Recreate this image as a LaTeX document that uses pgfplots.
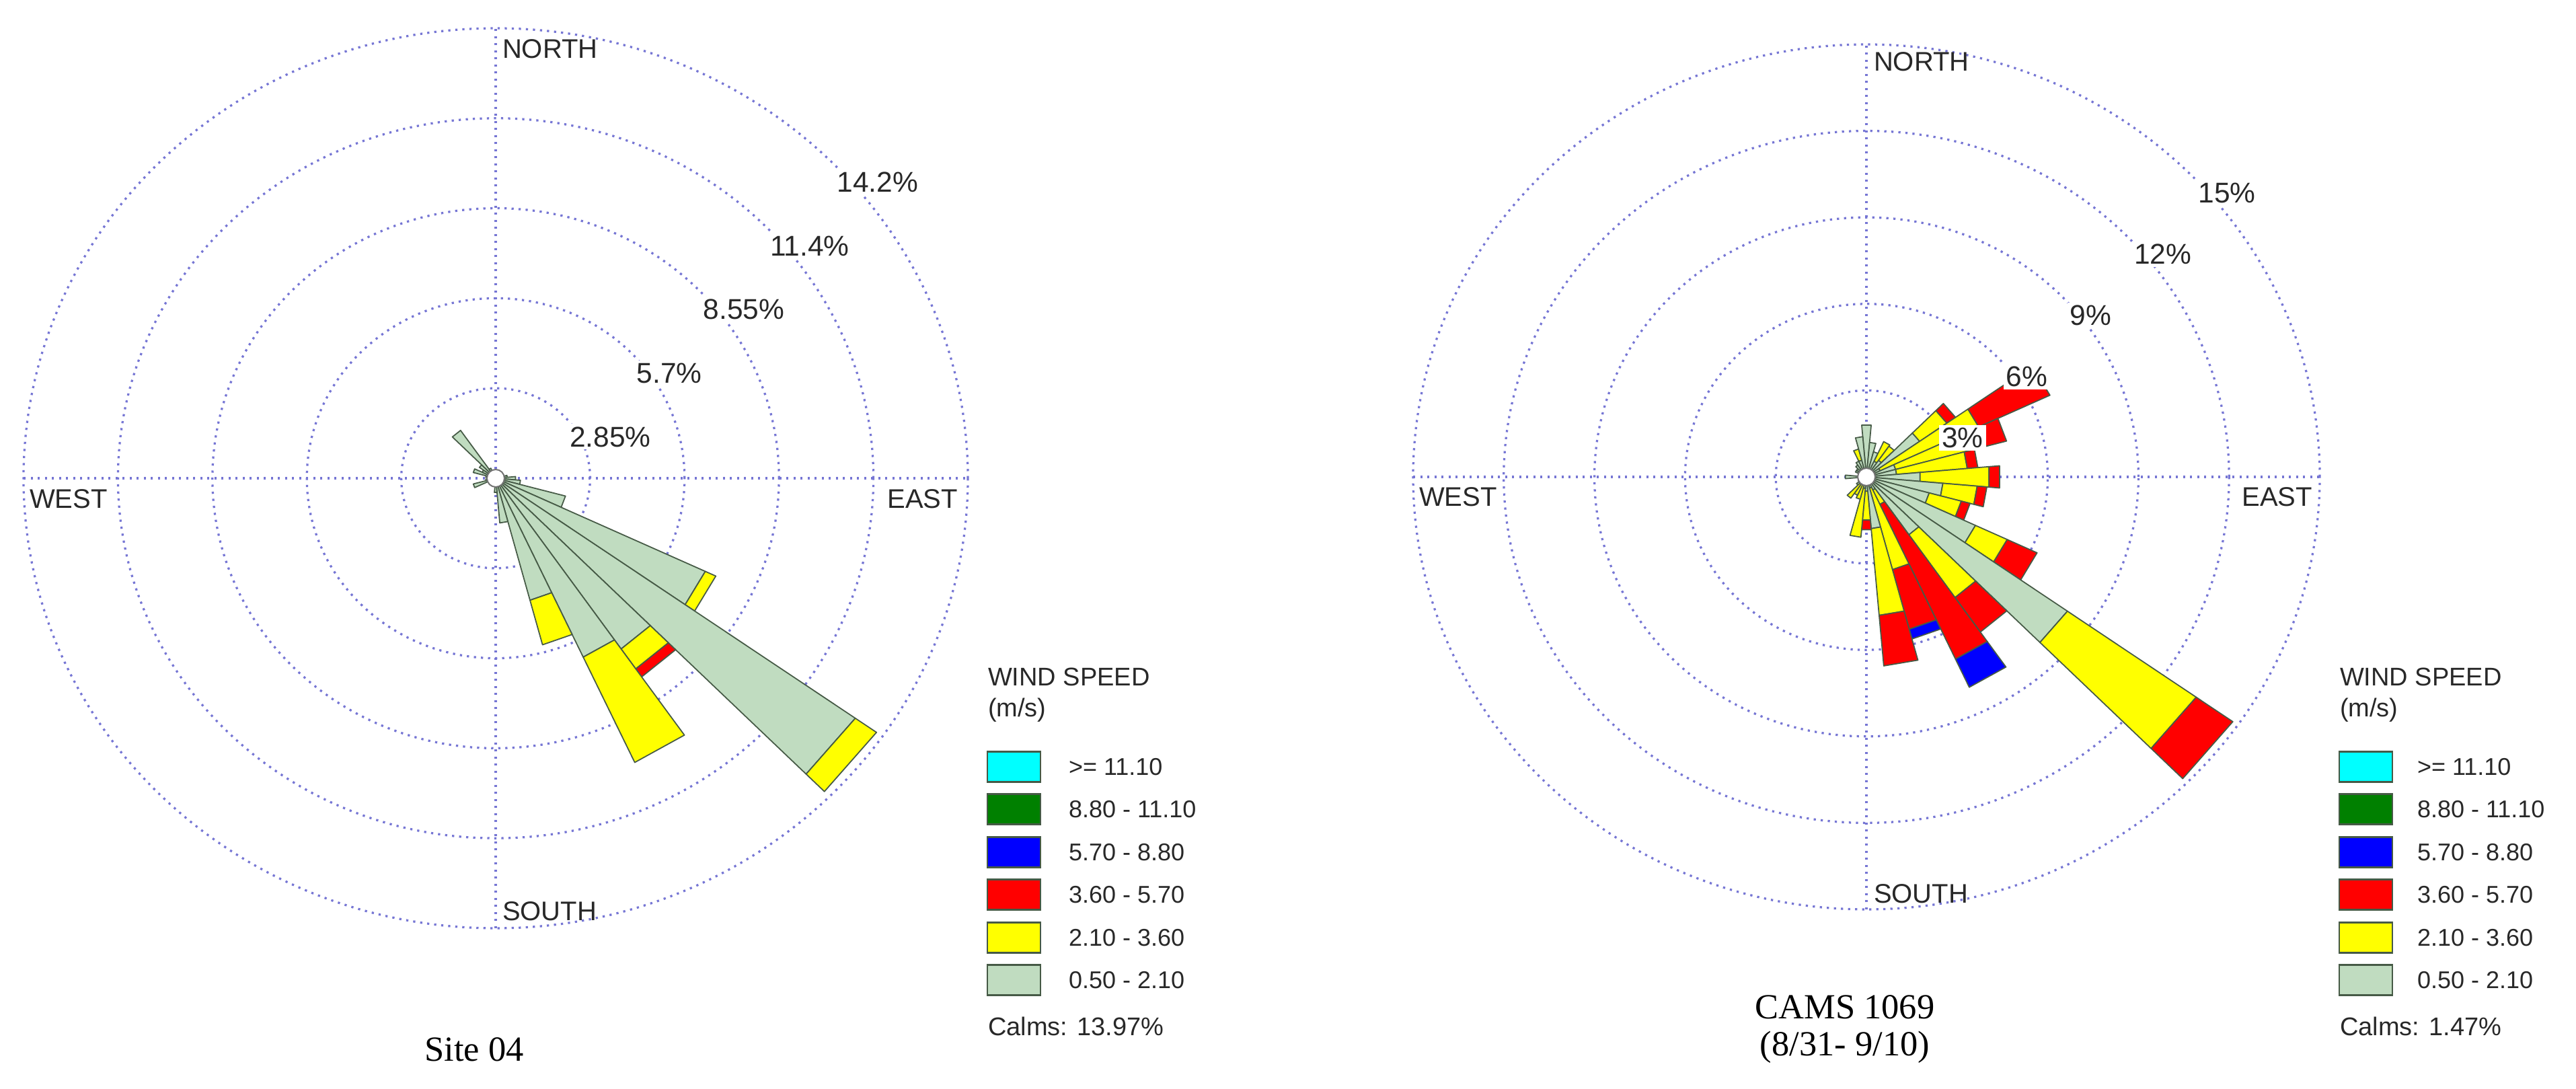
\documentclass[border=0pt]{standalone}
\usepackage{pgfplots}
\pgfplotsset{compat=1.18}
\usepackage{pgfplotstable}
\usepackage{fontspec}
\setmainfont{Liberation Sans}
\newfontfamily\seriffont{Liberation Serif}

\definecolor{wg}{RGB}{192,220,192}
\definecolor{wy}{RGB}{255,255,0}
\definecolor{wr}{RGB}{255,0,0}
\definecolor{wb}{RGB}{0,0,255}
\definecolor{wdg}{RGB}{0,128,0}
\definecolor{wc}{RGB}{0,255,255}
\definecolor{ringc}{RGB}{118,118,212}
\definecolor{edgec}{RGB}{70,90,70}
\definecolor{txt}{RGB}{40,40,40}

\pgfplotsset{
  roseaxis/.style={scale only axis, hide axis, clip=false, anchor=origin,
    xmin=-#1, xmax=#1, ymin=-#1, ymax=#1},
  wedge/.style={draw=edgec, line width=0.35pt, line join=round},
}
\tikzset{
  ring/.style={draw=ringc, line width=0.65pt, dash pattern=on 0.65pt off 1.45pt},
  dirlab/.style={font=\fontsize{8}{9.6}\selectfont, text=txt, inner sep=0pt},
  ringlab/.style={anchor=north west, font=\fontsize{8.5}{10}\selectfont, text=txt,
    fill=white, inner sep=0.8pt, xshift=1.2pt, yshift=-2.6pt},
  legtxt/.style={font=\fontsize{7.6}{9}\selectfont, text=txt, inner sep=0pt},
  legitem/.style={font=\fontsize{7.2}{9}\selectfont, text=txt, inner sep=0pt, anchor=west},
}

% direction (compass deg), then percentage per speed class:
% g = 0.50-2.10, y = 2.10-3.60, r = 3.60-5.70, b = 5.70-8.80
\pgfplotstableread{
d   g     y     r     b
80  0.35  0     0     0
90  0.6   0     0     0
100 0.75  0     0     0
110 2.18  0     0     0
120 6.98  0.35  0     0
130 13.25 0.78  0     0
140 6.6   0.77  0.31  0
150 6.25  3.68  0     0
160 4.0   1.46  0     0
170 1.42  0     0     0
180 0.45  0     0     0
190 0.25  0     0     0
250 0.7   0     0     0
260 0.3   0     0     0
280 0.3   0     0     0
290 0.7   0     0     0
300 0.45  0     0     0
310 0.6   0     0     0
320 1.85  0     0     0
330 0.35  0     0     0
}\leftdata

\pgfplotstableread{
d   g     y     r     b
0   1.8   0     0     0
10  1.2   0     0     0
20  0.9   0     0     0
30  0.6   0.75  0     0
40  0.7   0.6   0     0
50  2.15  1.1   0.35  0
60  0.5   3.6   2.6   0
70  1.0   2.95  0.85  0
80  1.0   2.35  0.35  0
90  1.78  2.29  0.35  0
100 2.54  1.14  0.32  0
110 2.15  1.1   0.3   0
120 3.98  1.16  1.09  0
130 8.12  5.2   1.48  0
140 2.45  2.66  1.46  0
150 0.5   0.55  5.92  1.08
160 0.4   2.93  2.14  0.35
170 1.8   3.02  1.76  0
180 0.5   1.0   0.34  0
190 0.4   1.7   0     0
200 0.3   0.5   0     0
210 0.3   0.4   0     0
220 0.3   0.6   0     0
230 0.4   0     0     0
240 0.3   0     0     0
270 0.7   0     0     0
300 0.4   0     0     0
310 0.4   0     0     0
320 0.5   0     0     0
330 0.6   0     0     0
340 0.6   0.4   0     0
350 1.4   0     0     0
}\rightdata

\newcommand\wedgeseg[5]{%
  \edef\tmp{\noexpand\addplot[wedge,fill=#5,data cs=polar] coordinates {(#1,#3) (#2,#3) (#2,#4) (#1,#4)} -- cycle;}%
  \tmp}

\newcommand\drawrose[1]{%
  \pgfplotstablegetrowsof{#1}%
  \pgfmathtruncatemacro\nrows{\pgfplotsretval-1}%
  \pgfplotsforeachungrouped \i in {0,...,\nrows}{%
    \pgfplotstablegetelem{\i}{d}\of{#1}\pgfmathsetmacro\aA{85-\pgfplotsretval}%
    \pgfmathsetmacro\aB{\aA+10}%
    \pgfplotstablegetelem{\i}{g}\of{#1}\pgfmathsetmacro\rA{\pgfplotsretval}%
    \pgfplotstablegetelem{\i}{y}\of{#1}\pgfmathsetmacro\rB{\rA+\pgfplotsretval}%
    \pgfplotstablegetelem{\i}{r}\of{#1}\pgfmathsetmacro\rC{\rB+\pgfplotsretval}%
    \pgfplotstablegetelem{\i}{b}\of{#1}\pgfmathsetmacro\rD{\rC+\pgfplotsretval}%
    \ifdim\rA pt>0pt \wedgeseg{\aA}{\aB}{0}{\rA}{wg}\fi
    \ifdim\rB pt>\rA pt \wedgeseg{\aA}{\aB}{\rA}{\rB}{wy}\fi
    \ifdim\rC pt>\rB pt \wedgeseg{\aA}{\aB}{\rB}{\rC}{wr}\fi
    \ifdim\rD pt>\rC pt \wedgeseg{\aA}{\aB}{\rC}{\rD}{wb}\fi
  }}

\newcommand\windlegend[3]{%
  \node[legtxt, anchor=base west] at (#1,119.8pt) {WIND SPEED};
  \node[legtxt, anchor=base west] at (#1,110.6pt) {(m/s)};
  \foreach \yy/\cc/\lab in {95.8/wc/{>= 11.10}, 83.2/wdg/{8.80 - 11.10}, 70.4/wb/{5.70 - 8.80},
      57.8/wr/{3.60 - 5.70}, 45.0/wy/{2.10 - 3.60}, 32.4/wg/{0.50 - 2.10}}{%
    \draw[draw=edgec, fill=\cc, line width=0.45pt] (#1,\yy pt-4.5pt) rectangle ++(15.8pt,9pt);
    \node[legitem] at (#2,\yy pt) {\lab};
  }
  \node[legtxt, anchor=base west] at (#1,15.8pt) {Calms: #3};
}

\begin{document}
\begin{tikzpicture}
\path[use as bounding box] (0,0) rectangle (766pt,323.8pt);

% ---------- left rose ----------
\begin{axis}[roseaxis=14.25, at={(147.4pt,181.6pt)}, width=280.8pt, height=267.6pt]
  \draw[ring] (axis cs:0,0) ellipse [x radius=2.85, y radius=2.85];
  \draw[ring] (axis cs:0,0) ellipse [x radius=5.7, y radius=5.7];
  \draw[ring] (axis cs:0,0) ellipse [x radius=8.55, y radius=8.55];
  \draw[ring] (axis cs:0,0) ellipse [x radius=11.4, y radius=11.4];
  \draw[ring] (axis cs:0,0) ellipse [x radius=14.25, y radius=14.25];
  \draw[ring] (axis cs:-14.25,0) -- (axis cs:14.25,0);
  \draw[ring] (axis cs:0,-14.25) -- (axis cs:0,14.25);
  \drawrose{\leftdata}
  \node[circle, draw=black!55, fill=white, line width=0.4pt, minimum size=5.2pt, inner sep=0pt] at (axis cs:0,0) {};
  \node[dirlab, anchor=north west, xshift=1.8pt, yshift=-3.2pt] at (axis cs:0,14.25) {NORTH};
  \node[dirlab, anchor=south west, xshift=1.8pt, yshift=2pt] at (axis cs:0,-14.25) {SOUTH};
  \node[dirlab, anchor=north west, xshift=1.6pt, yshift=-3.2pt] at (axis cs:-14.25,0) {WEST};
  \node[dirlab, anchor=north east, xshift=-2.8pt, yshift=-3.2pt] at (axis cs:14.25,0) {EAST};
  \node[ringlab] at (axis cs:2.015,2.015) {2.85\%};
  \node[ringlab] at (axis cs:4.031,4.031) {5.7\%};
  \node[ringlab] at (axis cs:6.046,6.046) {8.55\%};
  \node[ringlab] at (axis cs:8.061,8.061) {11.4\%};
  \node[ringlab] at (axis cs:10.076,10.076) {14.2\%};
\end{axis}

% ---------- right rose ----------
\begin{axis}[roseaxis=15, at={(555pt,182pt)}, width=269.6pt, height=257.2pt]
  \draw[ring] (axis cs:0,0) ellipse [x radius=3, y radius=3];
  \draw[ring] (axis cs:0,0) ellipse [x radius=6, y radius=6];
  \draw[ring] (axis cs:0,0) ellipse [x radius=9, y radius=9];
  \draw[ring] (axis cs:0,0) ellipse [x radius=12, y radius=12];
  \draw[ring] (axis cs:0,0) ellipse [x radius=15, y radius=15];
  \draw[ring] (axis cs:-15,0) -- (axis cs:15,0);
  \draw[ring] (axis cs:0,-15) -- (axis cs:0,15);
  \drawrose{\rightdata}
  \node[circle, draw=black!55, fill=white, line width=0.4pt, minimum size=5.2pt, inner sep=0pt] at (axis cs:0,0) {};
  \node[dirlab, anchor=north west, xshift=2pt, yshift=-2.2pt] at (axis cs:0,15) {NORTH};
  \node[dirlab, anchor=south west, xshift=2pt, yshift=1.6pt] at (axis cs:0,-15) {SOUTH};
  \node[dirlab, anchor=north west, xshift=1.6pt, yshift=-3pt] at (axis cs:-15,0) {WEST};
  \node[dirlab, anchor=north east, xshift=-2pt, yshift=-3pt] at (axis cs:15,0) {EAST};
  \node[ringlab, xshift=1.2pt] at (axis cs:2.121,2.121) {3\%};
  \node[ringlab, xshift=1.2pt] at (axis cs:4.243,4.243) {6\%};
  \node[ringlab, xshift=1.2pt] at (axis cs:6.364,6.364) {9\%};
  \node[ringlab, xshift=1.2pt] at (axis cs:8.485,8.485) {12\%};
  \node[ringlab, xshift=1.2pt] at (axis cs:10.607,10.607) {15\%};
\end{axis}

% ---------- legends ----------
\windlegend{293.6pt}{317.6pt}{13.97\%}
\windlegend{695.6pt}{718.6pt}{1.47\%}

% ---------- captions ----------
\node[font=\seriffont\fontsize{10.5}{12.6}\selectfont, anchor=base, inner sep=0pt] at (141pt,8.2pt) {Site 04};
\node[font=\seriffont\fontsize{10.5}{12.6}\selectfont, anchor=base, inner sep=0pt] at (548.6pt,20.8pt) {CAMS 1069};
\node[font=\seriffont\fontsize{10.5}{12.6}\selectfont, anchor=base, inner sep=0pt] at (548.6pt,9.8pt) {(8/31- 9/10)};
\end{tikzpicture}
\end{document}
